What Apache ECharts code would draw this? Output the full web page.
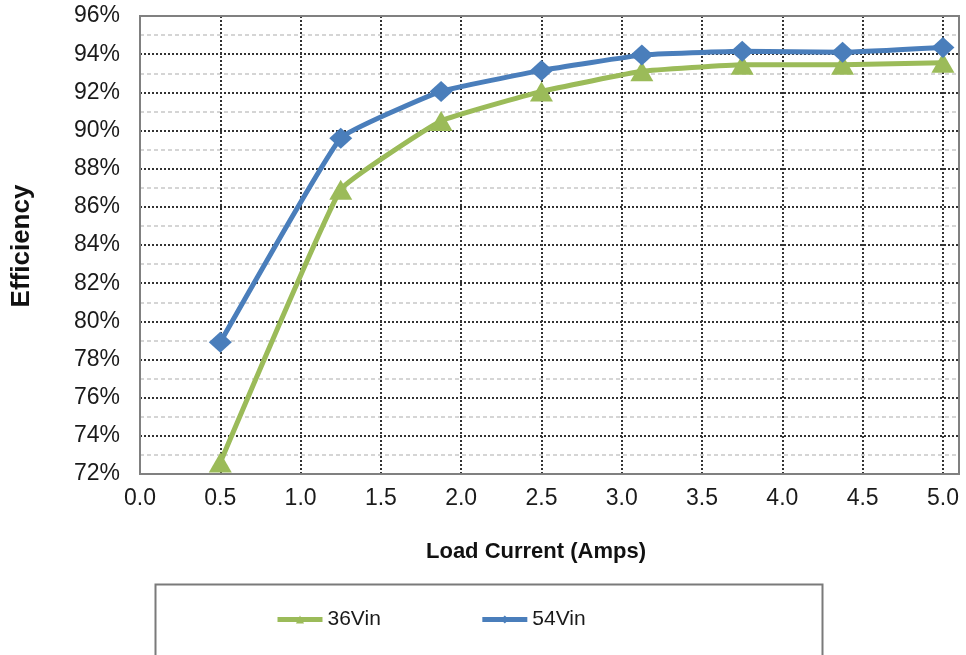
<!DOCTYPE html>
<html>
<head>
<meta charset="utf-8">
<script src="https://cdn.jsdelivr.net/npm/echarts@6/dist/echarts.min.js"></script>
<style>html,body{margin:0;padding:0;background:#fff}#c{width:966px;height:655px}</style>
</head>
<body>
<div id="c"></div>
<script>
var loadCurrent = [0.5, 1.25, 1.875, 2.5, 3.125, 3.75, 4.375, 5.0];
var eff36 = [72.6, 86.9, 90.5, 92.05, 93.1, 93.45, 93.45, 93.55];
var eff54 = [78.9, 89.6, 92.05, 93.15, 93.95, 94.15, 94.1, 94.35];
var seriesNames = ['36Vin', '54Vin'];
var xTitle = 'Load Current (Amps)';
var yTitle = 'Efficiency';

function pairs(xs, ys) { return xs.map(function (x, i) { return [x, ys[i]]; }); }

var chart = echarts.init(document.getElementById('c'));
var font = 'Liberation Sans, Arial, sans-serif';
chart.setOption({
  animation: false,
  backgroundColor: '#fff',
  grid: { left: 140, top: 16, right: 7, bottom: 181, show: true, borderColor: '#808080', borderWidth: 2, backgroundColor: 'transparent', z: 3 },
  xAxis: {
    type: 'value', min: 0, max: 5.1, interval: 0.5,
    axisLine: { show: false }, axisTick: { show: false },
    axisLabel: { showMaxLabel: false, margin: 13, fontSize: 23, fontFamily: font, color: '#1a1a1a',
      formatter: function (v) { return v.toFixed(1); } },
    splitLine: { show: true, lineStyle: { color: '#333', width: 2, type: [2, 2] } }
  },
  yAxis: {
    type: 'value', min: 72, max: 96, interval: 2,
    axisLine: { show: false }, axisTick: { show: false },
    axisLabel: { margin: 20, fontSize: 23, fontFamily: font, color: '#1a1a1a', formatter: '{value}%' },
    splitLine: { show: true, lineStyle: { color: '#333', width: 2, type: [2, 2] } },
    minorTick: { show: false, splitNumber: 2 },
    minorSplitLine: { show: true, lineStyle: { color: '#c8c8c8', width: 1.5, type: [4, 3] } }
  },
  legend: {
    left: 270, top: 604, itemWidth: 45, itemHeight: 10, itemGap: 99,
    lineStyle: { width: 5 },
    textStyle: { fontSize: 21, fontFamily: font, color: '#1a1a1a' },
    data: seriesNames
  },
  graphic: [
    { type: 'rect', left: 153, top: 582, shape: { width: 667, height: 100 },
      style: { fill: 'none', stroke: '#7a7a7a', lineWidth: 2 }, z: -1 },
    { type: 'text', x: 536, y: 552, style: { text: xTitle, font: 'bold 22px ' + font, fill: '#111', align: 'center', verticalAlign: 'middle' } },
    { type: 'text', x: 22, y: 246, rotation: Math.PI / 2, style: { text: yTitle, font: 'bold 26px ' + font, fill: '#111', align: 'center', verticalAlign: 'middle' } }
  ],
  series: [
    { name: seriesNames[0], type: 'line', data: pairs(loadCurrent, eff36), smooth: 0.1,
      symbol: 'triangle', symbolSize: [23, 20], z: 5,
      itemStyle: { color: '#9bbb59' }, lineStyle: { color: '#9bbb59', width: 5 } },
    { name: seriesNames[1], type: 'line', data: pairs(loadCurrent, eff54), smooth: 0.1,
      symbol: 'diamond', symbolSize: [23, 21], z: 6,
      itemStyle: { color: '#4a7ebb' }, lineStyle: { color: '#4a7ebb', width: 5 } }
  ]
});
</script>
</body>
</html>
